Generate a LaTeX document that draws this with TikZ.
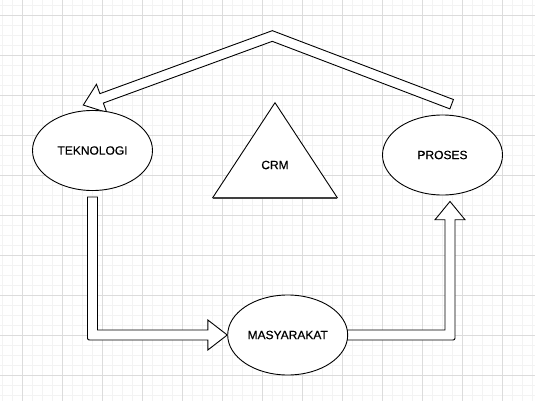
\documentclass[tikz,border=0pt]{standalone}
\usepackage{fontspec}
\setmainfont{Liberation Sans}
\newfontfamily\lblfont[FakeBold=0.5]{Liberation Sans}
\usetikzlibrary{shapes.geometric,calc}
\definecolor{gridmajor}{RGB}{220,220,220}
\definecolor{gridminor}{RGB}{243,243,243}
\tikzset{
  oval/.style={ellipse, draw, fill=white, line width=0.9pt, minimum width=120pt, minimum height=80pt, inner sep=0pt, font=\lblfont\fontsize{12}{14}\selectfont},
  flexarrow/.style={draw, fill=white, line width=0.9pt, line join=miter},
  lbl/.style={font=\lblfont\fontsize{12}{14}\selectfont, inner sep=0pt}
}
\begin{document}
\begin{tikzpicture}[x=1pt,y=-1pt]
\useasboundingbox (0,0) rectangle (535,401);
\fill[white] (0,0) rectangle (535,401);
% grid
\foreach \gx in {2,12,...,532} \draw[gridminor, line width=0.8pt] (\gx,0) -- (\gx,401);
\foreach \gy in {5,15,...,395} \draw[gridminor, line width=0.8pt] (0,\gy) -- (535,\gy);
\foreach \gx in {22,62,...,502} \draw[gridmajor, line width=0.8pt] (\gx,0) -- (\gx,401);
\foreach \gy in {15,55,...,375} \draw[gridmajor, line width=0.8pt] (0,\gy) -- (535,\gy);

% node placement (invisible first, to get anchors)
\path (92.5,150.5) node[oval, draw=none, fill=none] (tek0) {};
\path (442.5,155) node[oval, draw=none, fill=none] (pro0) {};
\path (287.7,335) node[oval, draw=none, fill=none] (mas0) {};

% arrow TEKNOLOGI -> MASYARAKAT
\coordinate (a2t) at ($(tek0.south)+(0,6)$);
\coordinate (a2c) at (a2t |- mas0.west);
\coordinate (a2p) at (mas0.west);
\coordinate (a2h) at ($(a2p)+(-19.4,0)$);
\draw[flexarrow] ($(a2t)+(-5,0)$) -- ($(a2t)+(5,0)$) -- ($(a2c)+(5,-5)$)
  -- ($(a2h)+(0,-5)$) -- ($(a2h)+(0,-15)$) -- (a2p) -- ($(a2h)+(0,15)$) -- ($(a2h)+(0,5)$)
  -- ($(a2c)+(-1,5)$) .. controls ($(a2c)+(-5,5)$) .. ($(a2c)+(-5,1)$) -- cycle;

% arrow MASYARAKAT -> PROSES
\coordinate (a3t) at ($(mas0.east)+(-10,0)$);
\coordinate (a3p) at ($(pro0.south)+(7.5,6)$);
\coordinate (a3c) at (a3p |- mas0.east);
\coordinate (a3h) at ($(a3p)+(0,18.3)$);
\draw[flexarrow] ($(a3t)+(0,-5)$) -- ($(a3c)+(-5,-5)$) -- ($(a3h)+(-5,0)$) -- ($(a3h)+(-15,0)$)
  -- (a3p) -- ($(a3h)+(15,0)$) -- ($(a3h)+(5,0)$) -- ($(a3c)+(5,1)$)
  .. controls ($(a3c)+(5,5)$) .. ($(a3c)+(1,5)$) -- ($(a3t)+(0,5)$) -- cycle;

% arrow PROSES -> TEKNOLOGI (over the top)
\coordinate (a1t) at ($(pro0.north)+(9.15,-10.35)$);
\coordinate (a1k) at (272.3,36);
\coordinate (a1p) at ($(tek0.north)+(-9.2,-5)$);
\coordinate (a1h) at ($(a1p)!19.5pt!(a1k)$);
\coordinate (a1a1) at ($(a1t)!5pt!90:(a1k)$);
\coordinate (a1a2) at ($(a1k)!5pt!-90:(a1t)$);
\coordinate (a1a3) at ($(a1k)!5pt!90:(a1h)$);
\coordinate (a1a4) at ($(a1h)!5pt!-90:(a1k)$);
\coordinate (a1b1) at ($(a1t)!5pt!-90:(a1k)$);
\coordinate (a1b2) at ($(a1k)!5pt!90:(a1t)$);
\coordinate (a1b3) at ($(a1k)!5pt!-90:(a1h)$);
\coordinate (a1b4) at ($(a1h)!5pt!90:(a1k)$);
\coordinate (a1ha) at ($(a1h)!15pt!-90:(a1k)$);
\coordinate (a1hb) at ($(a1h)!15pt!90:(a1k)$);
\coordinate (a1am) at (intersection of a1a1--a1a2 and a1a3--a1a4);
\coordinate (a1bm) at (intersection of a1b1--a1b2 and a1b3--a1b4);
\draw[flexarrow] (a1a1) -- (a1am) -- (a1a4) -- (a1ha) -- (a1p) -- (a1hb) -- (a1b4) -- (a1bm) -- (a1b1) -- cycle;

% ellipses with labels
\node[oval] (tek) at (tek0) {TEKNOLOGI};
\node[oval] (pro) at (pro0) {PROSES};
\node[oval] (mas) at (mas0) {MASYARAKAT};

% CRM triangle
\coordinate (crmtop) at (275,102.7);
\coordinate (crmleft) at (212.7,197.7);
\coordinate (crmright) at (337.3,197.7);
\draw[line width=0.9pt, line join=miter, fill=white] (crmtop) -- (crmright) -- (crmleft) -- cycle;
\draw[line width=1.6pt, black!75] (crmleft) -- (crmright);
\node[lbl] (crm) at (275,165) {CRM};
\end{tikzpicture}
\end{document}
